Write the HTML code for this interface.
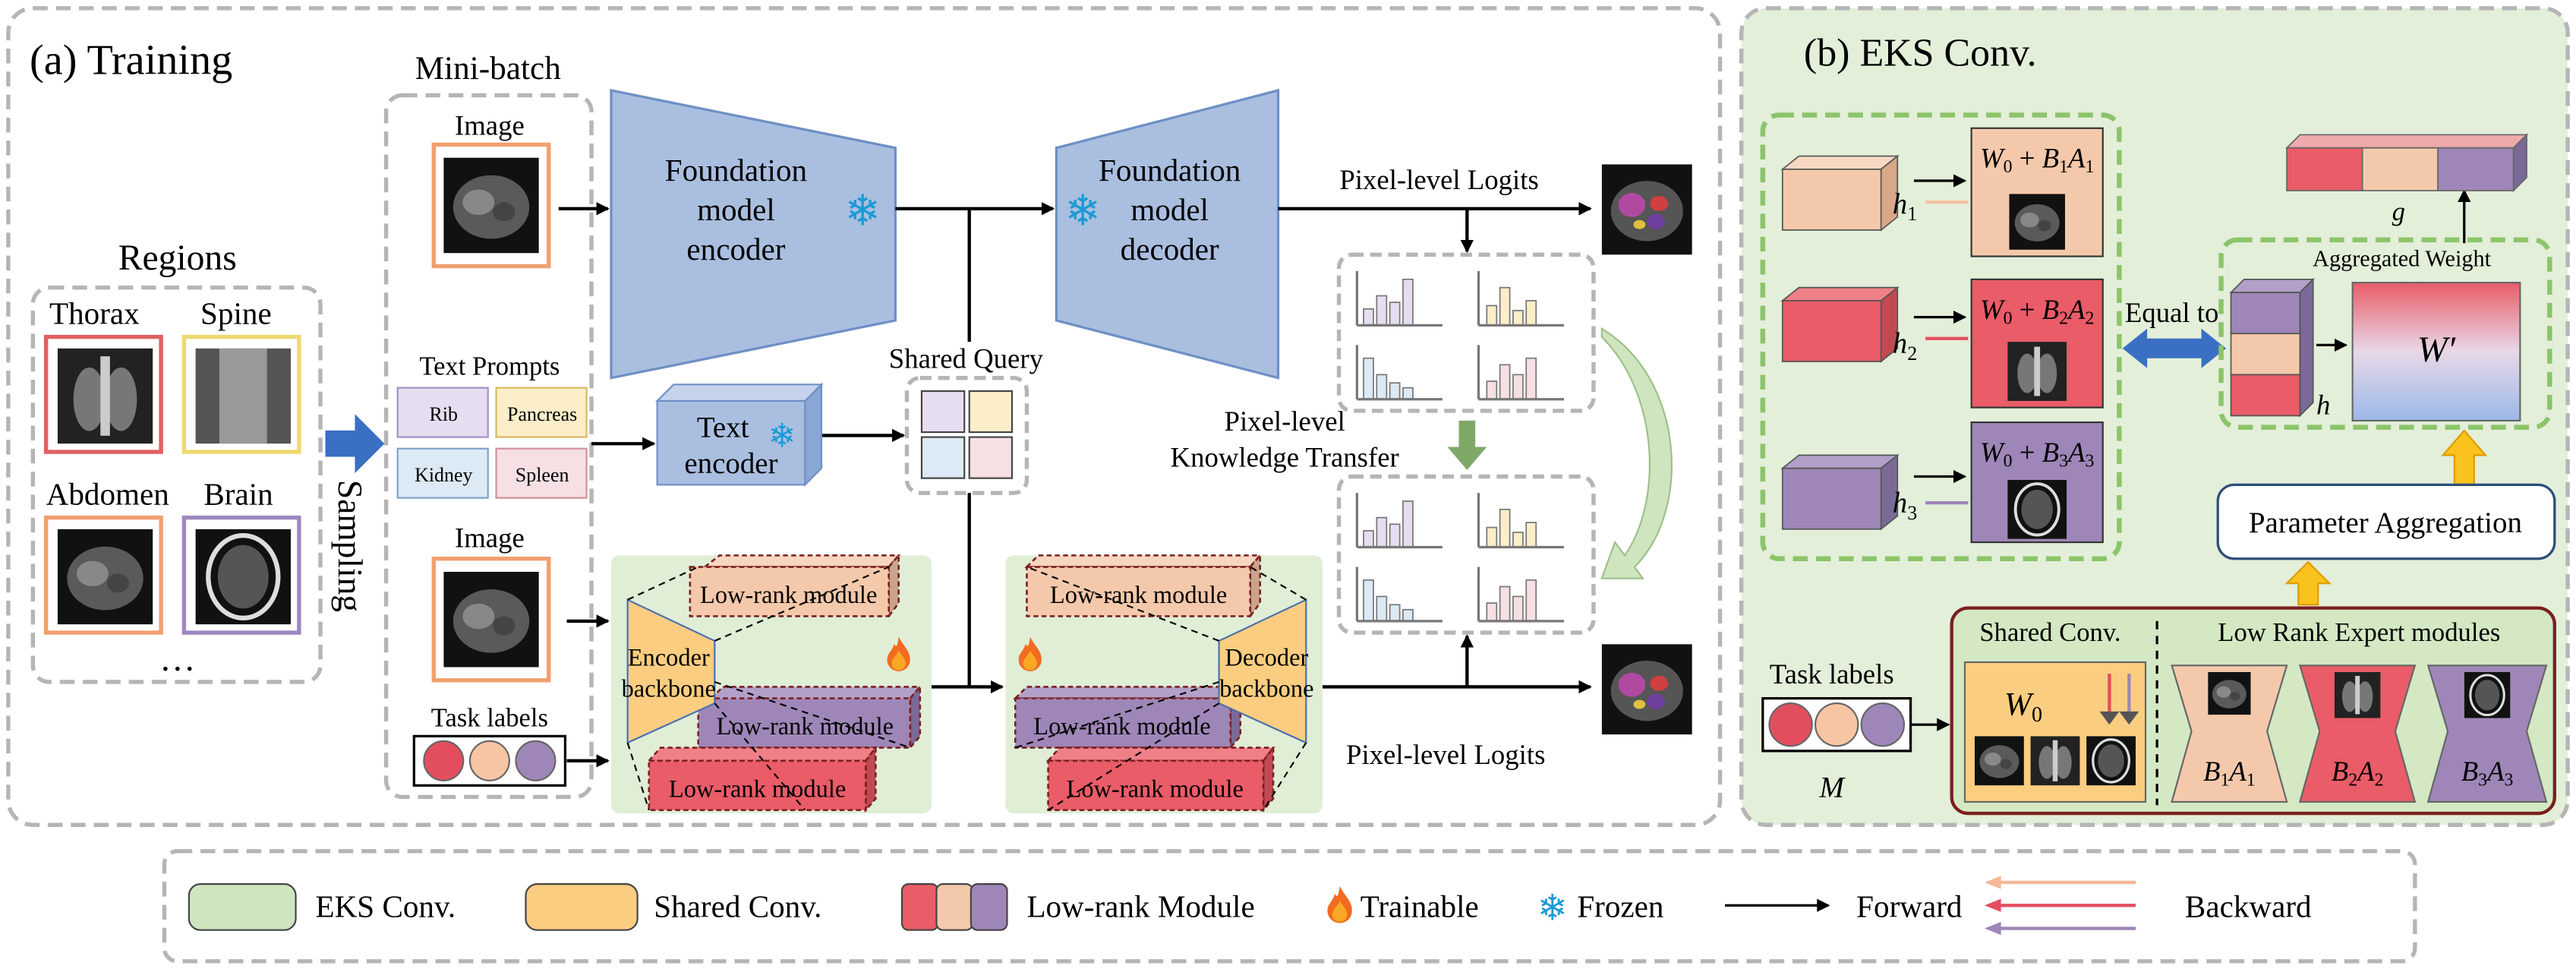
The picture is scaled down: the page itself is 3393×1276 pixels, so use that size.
<!DOCTYPE html>
<html><head><meta charset="utf-8"><style>
html,body{margin:0;padding:0;background:#fff;}
svg{display:block;}
svg text{font-family:"Liberation Serif","Times New Roman","DejaVu Serif",serif;}
</style></head><body>
<svg width="3393" height="1276" viewBox="0 0 1568 589.7" xmlns="http://www.w3.org/2000/svg" font-family="'Liberation Serif', 'Times New Roman', 'DejaVu Serif', serif">
<defs>
<marker id="ar" markerWidth="8" markerHeight="8" refX="7" refY="4" orient="auto" markerUnits="userSpaceOnUse"><path d="M0,0 L8,4 L0,8 Z" fill="#000"/></marker>
<symbol id="ct" viewBox="0 0 60 60"><rect width="60" height="60" fill="#111"/><ellipse cx="30" cy="31" rx="24" ry="20" fill="#5a5a5a"/><ellipse cx="22" cy="28" rx="10" ry="8" fill="#888"/><ellipse cx="38" cy="34" rx="7" ry="6" fill="#444"/></symbol>
<symbol id="xr" viewBox="0 0 60 60"><rect width="60" height="60" fill="#222"/><ellipse cx="20" cy="32" rx="10" ry="20" fill="#777"/><ellipse cx="40" cy="32" rx="10" ry="20" fill="#777"/><rect x="27" y="5" width="6" height="50" fill="#ccc"/></symbol>
<symbol id="br" viewBox="0 0 60 60"><rect width="60" height="60" fill="#111"/><ellipse cx="30" cy="30" rx="22" ry="26" fill="none" stroke="#ddd" stroke-width="3"/><ellipse cx="30" cy="30" rx="16" ry="20" fill="#555"/></symbol>
<symbol id="sp" viewBox="0 0 60 60"><rect width="60" height="60" fill="#555"/><rect x="15" y="0" width="30" height="60" fill="#999"/></symbol>
<symbol id="seg" viewBox="0 0 60 60"><rect width="60" height="60" fill="#111"/><ellipse cx="30" cy="31" rx="24" ry="20" fill="#555"/><ellipse cx="20" cy="27" rx="9" ry="8" fill="#b04aa0"/><ellipse cx="38" cy="26" rx="6" ry="5" fill="#d04040"/><ellipse cx="36" cy="38" rx="6" ry="5" fill="#7040a0"/><ellipse cx="25" cy="40" rx="4" ry="3" fill="#e0c040"/></symbol>
<symbol id="fire" viewBox="0 0 20 30"><path d="M10,0 C14,8 20,12 20,20 C20,26 15,30 10,30 C5,30 0,26 0,20 C0,14 5,12 6,6 C8,10 9,8 10,0Z" fill="#f26b21"/><path d="M10,12 C13,17 16,19 16,23 C16,27 13,29 10,29 C7,29 4,27 4,23 C4,19 8,17 10,12Z" fill="#f9a825"/></symbol>
<linearGradient id="wg" x1="0" y1="0" x2="0" y2="1"><stop offset="0" stop-color="#e95c68"/><stop offset="0.5" stop-color="#e8d8e8"/><stop offset="1" stop-color="#9bb8e8"/></linearGradient>
</defs>

<rect x="5" y="5" width="1042" height="497" rx="15" fill="#fff" stroke="#b5b5b5" stroke-width="2.5" stroke-dasharray="9,5"/>
<text x="18" y="45" font-size="26">(a) Training</text>
<rect x="1060" y="5" width="503" height="497" rx="15" fill="#e3efd9" stroke="#b5b5b5" stroke-width="2.5" stroke-dasharray="9,5"/>
<text x="1098" y="40" font-size="24">(b) EKS Conv.</text>

<text x="108" y="164" font-size="22" text-anchor="middle">Regions</text>
<rect x="20" y="175" width="175" height="240" rx="10" fill="none" stroke="#b5b5b5" stroke-width="2.5" stroke-dasharray="9,5"/>
<text x="30" y="197" font-size="19">Thorax</text><text x="122" y="197" font-size="19">Spine</text>
<rect x="28" y="205" width="70" height="70" fill="#fff" stroke="#e06060" stroke-width="2.5"/><use href="#xr" x="35" y="212" width="58" height="58"/>
<rect x="112" y="205" width="70" height="70" fill="#fff" stroke="#f0d870" stroke-width="2.5"/><use href="#sp" x="119" y="212" width="58" height="58"/>
<text x="28" y="307" font-size="19">Abdomen</text><text x="124" y="307" font-size="19">Brain</text>
<rect x="28" y="315" width="70" height="70" fill="#fff" stroke="#f0a070" stroke-width="2.5"/><use href="#ct" x="35" y="322" width="58" height="58"/>
<rect x="112" y="315" width="70" height="70" fill="#fff" stroke="#9c88c0" stroke-width="2.5"/><use href="#br" x="119" y="322" width="58" height="58"/>
<text x="108" y="408" font-size="22" text-anchor="middle">…</text>
<path d="M198,262 H216 V252 L234,270 L216,288 V278 H198Z" fill="#3a6fc4"/>
<text transform="translate(206,292) rotate(90)" font-size="21">Sampling</text>

<text x="297" y="48" font-size="20" text-anchor="middle">Mini-batch</text>
<rect x="235" y="58" width="125" height="427" rx="10" fill="none" stroke="#b5b5b5" stroke-width="2.5" stroke-dasharray="9,5"/>
<text x="298" y="82" font-size="17" text-anchor="middle">Image</text>
<rect x="264" y="88" width="70" height="74" fill="#fff" stroke="#f0a070" stroke-width="2.5"/><use href="#ct" x="270" y="95" width="58" height="60"/>
<text x="298" y="228" font-size="16" text-anchor="middle">Text Prompts</text>
<rect x="242" y="236" width="55" height="30" fill="#e7ddf0" stroke="#a090c0"/><text x="270" y="256" font-size="12" text-anchor="middle">Rib</text>
<rect x="302" y="236" width="55" height="30" fill="#fbeec8" stroke="#d8b860"/><text x="330" y="256" font-size="12" text-anchor="middle">Pancreas</text>
<rect x="242" y="273" width="55" height="30" fill="#dceaf5" stroke="#80a0c8"/><text x="270" y="293" font-size="12" text-anchor="middle">Kidney</text>
<rect x="302" y="273" width="55" height="30" fill="#f6e0e4" stroke="#d09098"/><text x="330" y="293" font-size="12" text-anchor="middle">Spleen</text>
<text x="298" y="333" font-size="17" text-anchor="middle">Image</text>
<rect x="264" y="340" width="70" height="74" fill="#fff" stroke="#f0a070" stroke-width="2.5"/><use href="#ct" x="270" y="347" width="58" height="60"/>
<text x="298" y="442" font-size="16" text-anchor="middle">Task labels</text>
<rect x="252" y="448" width="92" height="30" fill="#fff" stroke="#000" stroke-width="1.5"/>
<circle cx="270" cy="463" r="12" fill="#e34e5e" stroke="#666"/><circle cx="298" cy="463" r="12" fill="#f6c6a4" stroke="#666"/><circle cx="326" cy="463" r="12" fill="#9e86b8" stroke="#666"/>

<path d="M372,55 L545,90 L545,195 L372,230Z" fill="#aabfe0" stroke="#6f8fc5" stroke-width="1.5"/>
<text x="448" y="110" font-size="19" text-anchor="middle">Foundation</text><text x="448" y="134" font-size="19" text-anchor="middle">model</text><text x="448" y="158" font-size="19" text-anchor="middle">encoder</text>
<text x="525" y="137" font-size="26" text-anchor="middle" style="fill:#1a9ad6">❄</text>
<path d="M643,90 L778,55 L778,230 L643,195Z" fill="#aabfe0" stroke="#6f8fc5" stroke-width="1.5"/>
<text x="712" y="110" font-size="19" text-anchor="middle">Foundation</text><text x="712" y="134" font-size="19" text-anchor="middle">model</text><text x="712" y="158" font-size="19" text-anchor="middle">decoder</text>
<text x="659" y="137" font-size="26" text-anchor="middle" style="fill:#1a9ad6">❄</text>

<g stroke="#000" stroke-width="2" fill="none">
<path d="M340,127 H370" marker-end="url(#ar)"/>
<path d="M545,127 H641" marker-end="url(#ar)"/>
<path d="M590,127 V208"/>
<path d="M590,300 V418"/>
<path d="M567,418 H610" marker-end="url(#ar)"/>
<path d="M778,127 H968" marker-end="url(#ar)"/>
<path d="M805,418 H968" marker-end="url(#ar)"/>
<path d="M893,127 V153" marker-end="url(#ar)"/>
<path d="M893,418 V387" marker-end="url(#ar)"/>
<path d="M360,270 H398" marker-end="url(#ar)"/>
<path d="M492,265 H550" marker-end="url(#ar)"/>
<path d="M345,378 H370" marker-end="url(#ar)"/>
<path d="M345,463 H370" marker-end="url(#ar)"/>
</g>
<text x="876" y="115" font-size="17" text-anchor="middle">Pixel-level Logits</text>
<text x="880" y="465" font-size="17" text-anchor="middle">Pixel-level Logits</text>
<use href="#seg" x="975" y="100" width="55" height="55"/>
<use href="#seg" x="975" y="392" width="55" height="55"/>

<path d="M400,244 L410,234 L500,234 L490,244Z" fill="#c5d4ec" stroke="#6f8fc5"/>
<path d="M490,244 L500,234 L500,285 L490,295Z" fill="#8aa6d4" stroke="#6f8fc5"/>
<rect x="400" y="244" width="90" height="51" fill="#aabfe0" stroke="#6f8fc5"/>
<text x="440" y="266" font-size="18" text-anchor="middle">Text</text><text x="445" y="288" font-size="18" text-anchor="middle">encoder</text>
<text x="476" y="272" font-size="20" text-anchor="middle" style="fill:#1a9ad6">❄</text>

<text x="588" y="224" font-size="17" text-anchor="middle">Shared Query</text>
<rect x="552" y="230" width="73" height="70" rx="8" fill="none" stroke="#b5b5b5" stroke-width="2.5" stroke-dasharray="7,4"/>
<rect x="561" y="238" width="26" height="25" fill="#e7ddf0" stroke="#444"/><rect x="590" y="238" width="26" height="25" fill="#fbeec8" stroke="#444"/>
<rect x="561" y="266" width="26" height="25" fill="#dceaf5" stroke="#444"/><rect x="590" y="266" width="26" height="25" fill="#f6e0e4" stroke="#444"/>

<rect x="372" y="338" width="195" height="157" rx="5" fill="#e0eed6"/>
<rect x="612" y="338" width="193" height="157" rx="5" fill="#e0eed6"/>
<g stroke="#7a1f1f" stroke-width="1.2" stroke-dasharray="3,2">
<path d="M429,345 L438,338 L547,338 L541,345Z" fill="#f7d6bf"/><path d="M541,345 L547,338 L547,367 L541,375Z" fill="#c9a48a"/><rect x="420" y="345" width="121" height="30" fill="#f4c9ab"/>
<path d="M433,425 L440,418 L560,418 L554,425Z" fill="#b3a0c8"/><path d="M554,425 L560,418 L560,448 L554,455Z" fill="#7a6a98"/><rect x="425" y="425" width="129" height="30" fill="#9f86b8"/>
<path d="M395,463 L402,455 L533,455 L527,463Z" fill="#f08088"/><path d="M527,463 L533,455 L533,486 L527,493Z" fill="#c04a52"/><rect x="395" y="463" width="132" height="30" fill="#e95c68"/>
<path d="M625,345 L632,338 L767,338 L761,345Z" fill="#f7d6bf"/><path d="M761,345 L767,338 L767,367 L761,375Z" fill="#c9a48a"/><rect x="625" y="345" width="136" height="30" fill="#f4c9ab"/>
<path d="M618,425 L625,418 L755,418 L749,425Z" fill="#b3a0c8"/><path d="M749,425 L755,418 L755,448 L749,455Z" fill="#7a6a98"/><rect x="618" y="425" width="131" height="30" fill="#9f86b8"/>
<path d="M638,463 L645,455 L775,455 L769,463Z" fill="#f08088"/><path d="M769,463 L775,455 L775,486 L769,493Z" fill="#c04a52"/><rect x="638" y="463" width="131" height="30" fill="#e95c68"/>
</g>
<path d="M382,365 L435,390 L435,428 L382,452Z" fill="#fbcd80" stroke="#4a70b0" stroke-width="1"/>
<path d="M795,365 L742,390 L742,428 L795,452Z" fill="#fbcd80" stroke="#4a70b0" stroke-width="1"/>
<g stroke="#000" stroke-width="1" stroke-dasharray="4,3" fill="none">
<path d="M382,365 L425,345 M435,390 L541,345 M435,415 L554,455 M435,428 L490,493 M382,452 L395,493"/>
<path d="M795,365 L761,345 M742,390 L625,345 M742,415 L618,455 M742,428 L638,493 M795,452 L769,493"/>
</g>
<text x="480" y="367" font-size="15" text-anchor="middle">Low-rank module</text>
<text x="490" y="447" font-size="15" text-anchor="middle">Low-rank module</text>
<text x="461" y="485" font-size="15" text-anchor="middle">Low-rank module</text>
<text x="693" y="367" font-size="15" text-anchor="middle">Low-rank module</text>
<text x="683" y="447" font-size="15" text-anchor="middle">Low-rank module</text>
<text x="703" y="485" font-size="15" text-anchor="middle">Low-rank module</text>
<text x="407" y="405" font-size="15" text-anchor="middle">Encoder</text><text x="407" y="424" font-size="15" text-anchor="middle">backbone</text>
<text x="771" y="405" font-size="15" text-anchor="middle">Decoder</text><text x="771" y="424" font-size="15" text-anchor="middle">backbone</text>
<use href="#fire" x="540" y="387" width="14" height="22"/>
<use href="#fire" x="620" y="387" width="14" height="22"/>

<rect x="815" y="155" width="155" height="95" rx="8" fill="#fff" stroke="#b5b5b5" stroke-width="2.5" stroke-dasharray="7,4"/>
<rect x="815" y="290" width="155" height="95" rx="8" fill="#fff" stroke="#b5b5b5" stroke-width="2.5" stroke-dasharray="7,4"/>
<g stroke="#777" stroke-width="0.8">
<rect x="830" y="188" width="6" height="10" fill="#e7ddf0"/><rect x="838" y="180" width="6" height="18" fill="#e7ddf0"/><rect x="846" y="184" width="6" height="14" fill="#e7ddf0"/><rect x="854" y="170" width="6" height="28" fill="#e7ddf0"/>
<rect x="905" y="186" width="6" height="12" fill="#fbeec8"/><rect x="913" y="175" width="6" height="23" fill="#fbeec8"/><rect x="921" y="189" width="6" height="9" fill="#fbeec8"/><rect x="929" y="183" width="6" height="15" fill="#fbeec8"/>
<rect x="830" y="218" width="6" height="25" fill="#dceaf5"/><rect x="838" y="228" width="6" height="15" fill="#dceaf5"/><rect x="846" y="233" width="6" height="10" fill="#dceaf5"/><rect x="854" y="236" width="6" height="7" fill="#dceaf5"/>
<rect x="905" y="232" width="6" height="11" fill="#f6e0e4"/><rect x="913" y="222" width="6" height="21" fill="#f6e0e4"/><rect x="921" y="228" width="6" height="15" fill="#f6e0e4"/><rect x="929" y="218" width="6" height="25" fill="#f6e0e4"/>
<rect x="830" y="323" width="6" height="10" fill="#e7ddf0"/><rect x="838" y="315" width="6" height="18" fill="#e7ddf0"/><rect x="846" y="319" width="6" height="14" fill="#e7ddf0"/><rect x="854" y="305" width="6" height="28" fill="#e7ddf0"/>
<rect x="905" y="321" width="6" height="12" fill="#fbeec8"/><rect x="913" y="310" width="6" height="23" fill="#fbeec8"/><rect x="921" y="324" width="6" height="9" fill="#fbeec8"/><rect x="929" y="318" width="6" height="15" fill="#fbeec8"/>
<rect x="830" y="353" width="6" height="25" fill="#dceaf5"/><rect x="838" y="363" width="6" height="15" fill="#dceaf5"/><rect x="846" y="368" width="6" height="10" fill="#dceaf5"/><rect x="854" y="371" width="6" height="7" fill="#dceaf5"/>
<rect x="905" y="367" width="6" height="11" fill="#f6e0e4"/><rect x="913" y="357" width="6" height="21" fill="#f6e0e4"/><rect x="921" y="363" width="6" height="15" fill="#f6e0e4"/><rect x="929" y="353" width="6" height="25" fill="#f6e0e4"/>
</g>
<g stroke="#777" stroke-width="1.5" fill="none">
<path d="M826,198 H878 M826,198 V165 M900,198 H952 M900,198 V165 M826,243 H878 M826,243 V210 M900,243 H952 M900,243 V210"/>
<path d="M826,333 H878 M826,333 V300 M900,333 H952 M900,333 V300 M826,378 H878 M826,378 V345 M900,378 H952 M900,378 V345"/>
</g>
<path d="M888,256 H898 V272 H905 L893,286 L881,272 H888Z" fill="#7fa867"/>
<path d="M975,200 C1025,230 1030,310 995,345 L1000,352 L975,352 L983,330 L989,338 C1012,305 1010,240 975,205Z" fill="#cfe5c0" stroke="#9cc088"/>
<text x="782" y="262" font-size="17" text-anchor="middle">Pixel-level</text>
<text x="782" y="284" font-size="17" text-anchor="middle">Knowledge Transfer</text>

<rect x="1073" y="70" width="217" height="270" rx="10" fill="none" stroke="#8cc46a" stroke-width="3" stroke-dasharray="9,5"/>
<g stroke="#555" stroke-width="0.8">
<path d="M1085,103 L1095,95 L1155,95 L1145,103Z" fill="#f8d8c2"/><path d="M1145,103 L1155,95 L1155,132 L1145,140Z" fill="#d8a888"/><rect x="1085" y="103" width="60" height="37" fill="#f4c9ab"/>
<path d="M1085,183 L1095,175 L1155,175 L1145,183Z" fill="#f08088"/><path d="M1145,183 L1155,175 L1155,212 L1145,220Z" fill="#c04a52"/><rect x="1085" y="183" width="60" height="37" fill="#e95c68"/>
<path d="M1085,285 L1095,277 L1155,277 L1145,285Z" fill="#b3a0c8"/><path d="M1145,285 L1155,277 L1155,314 L1145,322Z" fill="#7a6a98"/><rect x="1085" y="285" width="60" height="37" fill="#9f86b8"/>
</g>
<text x="1152" y="130" font-size="18" font-style="italic">h<tspan font-size="12" dy="4" font-style="normal">1</tspan></text>
<text x="1152" y="215" font-size="18" font-style="italic">h<tspan font-size="12" dy="4" font-style="normal">2</tspan></text>
<text x="1152" y="312" font-size="18" font-style="italic">h<tspan font-size="12" dy="4" font-style="normal">3</tspan></text>
<g stroke="#000" stroke-width="1.5" fill="none"><path d="M1165,110 H1196" marker-end="url(#ar)"/><path d="M1165,193 H1196" marker-end="url(#ar)"/><path d="M1165,290 H1196" marker-end="url(#ar)"/></g>
<path d="M1198,123 H1172" stroke="#f4c0a0" stroke-width="2"/><path d="M1198,206 H1172" stroke="#e34e5e" stroke-width="2"/><path d="M1198,306 H1172" stroke="#9e86b8" stroke-width="2"/>
<rect x="1200" y="78" width="80" height="78" fill="#f4c9ab" stroke="#333"/><use href="#ct" x="1223" y="118" width="34" height="34"/>
<rect x="1200" y="170" width="80" height="78" fill="#e95c68" stroke="#333"/><use href="#xr" x="1222" y="208" width="36" height="36"/>
<rect x="1200" y="257" width="80" height="73" fill="#9f86b8" stroke="#333"/><use href="#br" x="1222" y="292" width="36" height="36"/>
<text x="1240" y="102" font-size="17" text-anchor="middle"><tspan font-style="italic">W</tspan><tspan font-size="11" dy="3">0</tspan><tspan dy="-3"> + </tspan><tspan font-style="italic">B</tspan><tspan font-size="11" dy="3">1</tspan><tspan dy="-3" font-style="italic">A</tspan><tspan font-size="11" dy="3">1</tspan></text>
<text x="1240" y="194" font-size="17" text-anchor="middle"><tspan font-style="italic">W</tspan><tspan font-size="11" dy="3">0</tspan><tspan dy="-3"> + </tspan><tspan font-style="italic">B</tspan><tspan font-size="11" dy="3">2</tspan><tspan dy="-3" font-style="italic">A</tspan><tspan font-size="11" dy="3">2</tspan></text>
<text x="1240" y="281" font-size="17" text-anchor="middle"><tspan font-style="italic">W</tspan><tspan font-size="11" dy="3">0</tspan><tspan dy="-3"> + </tspan><tspan font-style="italic">B</tspan><tspan font-size="11" dy="3">3</tspan><tspan dy="-3" font-style="italic">A</tspan><tspan font-size="11" dy="3">3</tspan></text>
<path d="M1292,212 L1307,200 V206 H1340 V200 L1355,212 L1340,224 V218 H1307 V224Z" fill="#3a6fc4"/>
<text x="1322" y="196" font-size="17" text-anchor="middle">Equal to</text>

<rect x="1352" y="146" width="200" height="114" rx="10" fill="none" stroke="#8cc46a" stroke-width="3" stroke-dasharray="9,5"/>
<text x="1462" y="162" font-size="14" text-anchor="middle">Aggregated Weight</text>
<g stroke="#555" stroke-width="0.8">
<path d="M1358,178 L1366,170 L1408,170 L1400,178Z" fill="#b3a0c8"/><path d="M1400,178 L1408,170 L1408,245 L1400,253Z" fill="#7a6a98"/>
<rect x="1358" y="178" width="42" height="25" fill="#9f86b8"/><rect x="1358" y="203" width="42" height="25" fill="#f4c9ab"/><rect x="1358" y="228" width="42" height="25" fill="#e95c68"/>
</g>
<text x="1410" y="252" font-size="17" font-style="italic">h</text>
<path d="M1410,210 H1428" stroke="#000" stroke-width="1.5" marker-end="url(#ar)"/>
<rect x="1432" y="172" width="102" height="84" fill="url(#wg)" stroke="#666"/>
<text x="1483" y="220" font-size="22" font-style="italic" text-anchor="middle">W′</text>
<path d="M1500,148 V116" stroke="#000" stroke-width="1.5" marker-end="url(#ar)"/>
<g stroke="#666" stroke-width="0.8">
<path d="M1392,90 L1400,82 L1538,82 L1530,90Z" fill="#eaa"/>
<rect x="1392" y="90" width="46" height="26" fill="#e95c68"/><rect x="1438" y="90" width="46" height="26" fill="#f4c9ab"/><rect x="1484" y="90" width="46" height="26" fill="#9f86b8"/>
<path d="M1530,90 L1538,82 L1538,108 L1530,116Z" fill="#7a6a98"/>
</g>
<text x="1460" y="134" font-size="16" font-style="italic" text-anchor="middle">g</text>
<path d="M1494,295 V277 H1487 L1500,262 L1513,277 H1506 V295Z" fill="#f9c21c" stroke="#e09a00"/>
<rect x="1350" y="295" width="205" height="45" rx="10" fill="#fff" stroke="#2e4d7a" stroke-width="1.5"/>
<text x="1452" y="324" font-size="18" text-anchor="middle">Parameter Aggregation</text>
<path d="M1399,368 V355 H1392 L1405,342 L1418,355 H1411 V368Z" fill="#f9c21c" stroke="#e09a00"/>

<rect x="1188" y="370" width="367" height="125" rx="10" fill="#d3e8c3" stroke="#7a1f1f" stroke-width="2"/>
<text x="1248" y="390" font-size="16" text-anchor="middle">Shared Conv.</text>
<text x="1436" y="390" font-size="16" text-anchor="middle">Low Rank Expert modules</text>
<path d="M1313,378 V490" stroke="#000" stroke-width="1.5" stroke-dasharray="5,4"/>
<rect x="1196" y="403" width="110" height="85" fill="#fbcd80" stroke="#666"/>
<text x="1220" y="435" font-size="20" font-style="italic">W<tspan font-size="13" dy="4" font-style="normal">0</tspan></text>
<use href="#ct" x="1202" y="448" width="30" height="30"/><use href="#xr" x="1236" y="448" width="30" height="30"/><use href="#br" x="1270" y="448" width="30" height="30"/>
<path d="M1284,410 V437" stroke="#e34e5e" stroke-width="2"/><path d="M1296,410 V437" stroke="#9e86b8" stroke-width="2"/>
<path d="M1278,433 L1284,441 L1290,433Z M1290,433 L1296,441 L1302,433Z" fill="#555"/>
<path d="M1322,405 H1392 L1380,445 L1392,488 H1322 L1334,445Z" fill="#f4c9ab" stroke="#666"/>
<path d="M1400,405 H1470 L1458,445 L1470,488 H1400 L1412,445Z" fill="#e95c68" stroke="#666"/>
<path d="M1478,405 H1550 L1538,445 L1550,488 H1478 L1490,445Z" fill="#9f86b8" stroke="#666"/>
<use href="#ct" x="1344" y="409" width="26" height="26"/><use href="#xr" x="1421" y="409" width="28" height="28"/><use href="#br" x="1500" y="409" width="28" height="28"/>
<text x="1357" y="475" font-size="17" text-anchor="middle"><tspan font-style="italic">B</tspan><tspan font-size="11" dy="3">1</tspan><tspan dy="-3" font-style="italic">A</tspan><tspan font-size="11" dy="3">1</tspan></text>
<text x="1435" y="475" font-size="17" text-anchor="middle"><tspan font-style="italic">B</tspan><tspan font-size="11" dy="3">2</tspan><tspan dy="-3" font-style="italic">A</tspan><tspan font-size="11" dy="3">2</tspan></text>
<text x="1514" y="475" font-size="17" text-anchor="middle"><tspan font-style="italic">B</tspan><tspan font-size="11" dy="3">3</tspan><tspan dy="-3" font-style="italic">A</tspan><tspan font-size="11" dy="3">3</tspan></text>
<text x="1115" y="416" font-size="17" text-anchor="middle">Task labels</text>
<rect x="1073" y="425" width="90" height="32" fill="#fff" stroke="#000" stroke-width="1.5"/>
<circle cx="1090" cy="441" r="13" fill="#e34e5e" stroke="#666"/><circle cx="1118" cy="441" r="13" fill="#f6c6a4" stroke="#666"/><circle cx="1146" cy="441" r="13" fill="#9e86b8" stroke="#666"/>
<text x="1115" y="485" font-size="18" font-style="italic" text-anchor="middle">M</text>
<path d="M1163,441 H1186" stroke="#000" stroke-width="1.5" marker-end="url(#ar)"/>

<rect x="100" y="518" width="1370" height="67" rx="8" fill="none" stroke="#b5b5b5" stroke-width="2.5" stroke-dasharray="9,5"/>
<rect x="115" y="538" width="65" height="28" rx="7" fill="#cfe5c0" stroke="#444"/>
<text x="192" y="558" font-size="19">EKS Conv.</text>
<rect x="320" y="538" width="68" height="28" rx="7" fill="#fbcd80" stroke="#444"/>
<text x="398" y="558" font-size="19">Shared Conv.</text>
<rect x="549" y="538" width="22" height="28" rx="4" fill="#e95c68" stroke="#444"/><rect x="570" y="538" width="22" height="28" rx="4" fill="#f4c9ab" stroke="#444"/><rect x="591" y="538" width="22" height="28" rx="4" fill="#9f86b8" stroke="#444"/>
<text x="625" y="558" font-size="19">Low-rank Module</text>
<use href="#fire" x="808" y="539" width="15" height="23"/>
<text x="828" y="558" font-size="19">Trainable</text>
<text x="945" y="560" font-size="22" text-anchor="middle" style="fill:#1a9ad6">❄</text>
<text x="960" y="558" font-size="19">Frozen</text>
<path d="M1050,551 H1113" stroke="#000" stroke-width="1.5" marker-end="url(#ar)"/>
<text x="1130" y="558" font-size="19">Forward</text>
<path d="M1300,537 H1214" stroke="#f4b896" stroke-width="2"/><path d="M1208,537 L1218,533 L1218,541Z" fill="#f4b896"/>
<path d="M1300,551 H1214" stroke="#e34e5e" stroke-width="2"/><path d="M1208,551 L1218,547 L1218,555Z" fill="#e34e5e"/>
<path d="M1300,565 H1214" stroke="#9e86b8" stroke-width="2"/><path d="M1208,565 L1218,561 L1218,569Z" fill="#9e86b8"/>
<text x="1330" y="558" font-size="19">Backward</text>
</svg>
</body></html>
